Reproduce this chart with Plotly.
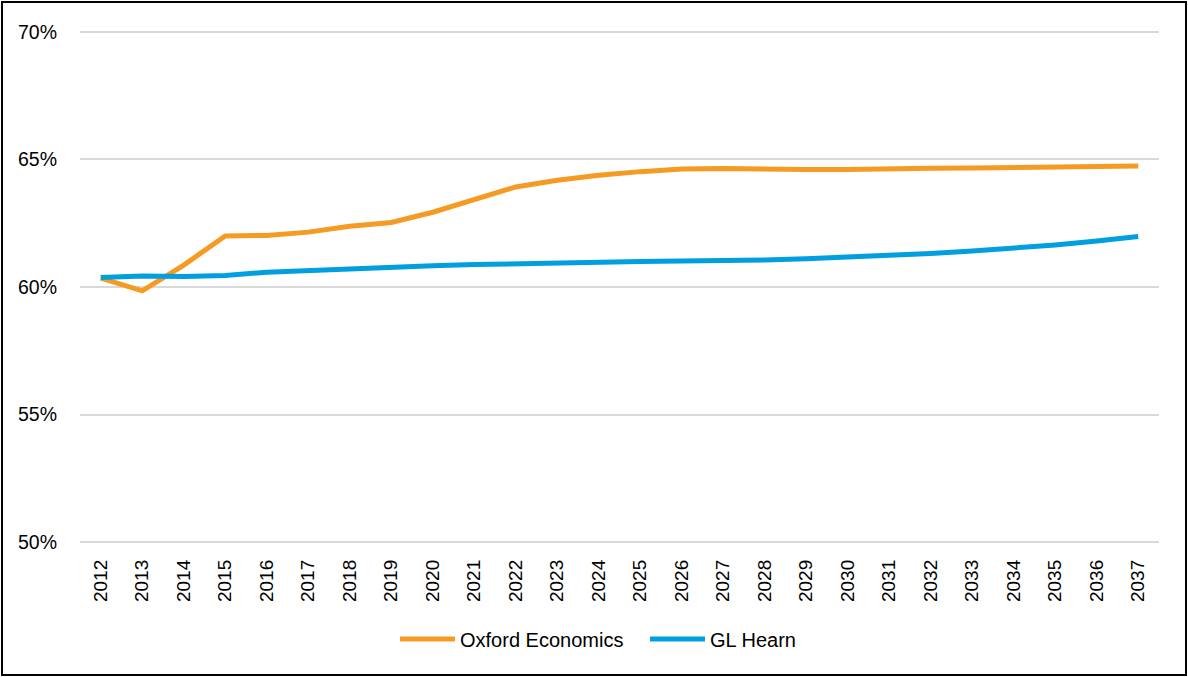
import plotly.graph_objects as go

years = [str(y) for y in range(2012, 2038)]
oxford = [60.35, 59.85, 60.86, 62.0, 62.02, 62.15, 62.38, 62.53, 62.93, 63.42, 63.92, 64.18, 64.38, 64.52,
          64.62, 64.64, 64.6, 64.6, 64.6, 64.64, 64.65, 64.66, 64.67, 64.68, 64.7, 64.74]
glhearn = [60.37, 60.43, 60.41, 60.45, 60.58, 60.65, 60.7, 60.76, 60.83, 60.88, 60.92, 60.95, 60.97, 61.0,
           61.02, 61.03, 61.06, 61.11, 61.17, 61.24, 61.31, 61.41, 61.52, 61.65, 61.8, 61.98]
y_ticks = [50, 55, 60, 65, 70]
y_labels = ["50%", "55%", "60%", "65%", "70%"]

FONT = "Liberation Sans Narrow, Arial Narrow, Liberation Sans, Arial, sans-serif"

fig = go.Figure()
fig.add_trace(go.Scatter(x=years, y=oxford, mode="lines", name="Oxford Economics",
                         line=dict(color="#F59B23", width=5)))
fig.add_trace(go.Scatter(x=years, y=glhearn, mode="lines", name="GL Hearn",
                         line=dict(color="#009FDF", width=5)))

L, R, T, B = 80, 29, 19, 122
W, H = 1188, 677
pw, ph = W - L - R, H - T - B
bottom_px = T + ph

fig.update_layout(
    width=W, height=H,
    margin=dict(l=L, r=R, t=T, b=B),
    paper_bgcolor="white", plot_bgcolor="white",
    font=dict(family=FONT, size=20, color="#000000"),
    showlegend=True,
    legend=dict(orientation="h", x=(395 - L) / pw, xanchor="left",
                y=-(639 - bottom_px) / ph, yanchor="middle",
                font=dict(size=20), traceorder="normal",
                itemwidth=55, entrywidth=180, entrywidthmode="pixels"),
    xaxis=dict(type="category", tickangle=-90, showgrid=False, showline=False,
               ticks="", tickfont=dict(size=19), ticklabelstandoff=0,
               range=[-0.5, len(years) - 0.5]),
    yaxis=dict(range=[49.5, 70.5], tickvals=y_ticks, ticktext=y_labels, showgrid=True,
               gridcolor="#D9D9D9", gridwidth=2, zeroline=False, showline=False,
               ticks="", ticklabelstandoff=22, tickfont=dict(size=19.5)),
    shapes=[dict(type="rect", xref="paper", yref="paper",
                 x0=(2 - L) / pw, x1=(W - 2 - L) / pw,
                 y0=-(H - 2 - bottom_px) / ph, y1=(bottom_px - 2) / ph,
                 line=dict(color="#000000", width=2), fillcolor="rgba(0,0,0,0)", layer="below")],
)

fig.write_html("out.html", config={"displayModeBar": False},
               post_script="document.body.style.margin='0px';document.body.style.overflow='hidden';")
